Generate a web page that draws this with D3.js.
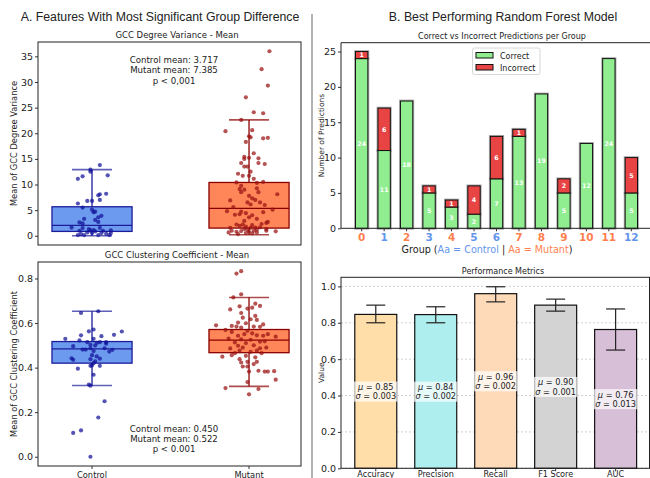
<!DOCTYPE html>
<html>
<head>
<meta charset="utf-8">
<script src="https://cdn.jsdelivr.net/npm/d3@7"></script>
<style>
  body { margin: 0; background: #fff; }
  text { font-family: "DejaVu Sans", sans-serif; fill: #222; }
</style>
</head>
<body>
<svg id="fig" width="650" height="478"></svg>
<script>
// ---- panel A data ----
const boxGroups = ["Control", "Mutant"];

// [whiskLow, q1, median, q3, whiskHigh]
const degVarStats = [[0.0, 0.85, 2.03, 5.66, 12.9], [0.2, 1.5, 5.34, 10.4, 22.6]];
const clustStats = [[0.32, 0.42, 0.484, 0.517, 0.653], [0.316, 0.467, 0.523, 0.571, 0.715]];

// jittered points: values and horizontal jitter (in category units)
const degVarControl = [13.8,12.9,12.5,11.6,11.1,11.8,8.1,7.9,8.2,7.0,6.8,6.8,6.3,5.5,5.1,4.6,4.7,3.9,3.6,3.1,2.7,3.3,2.6,2.4,1.6,1.5,1.3,1.05,1.1,0.85,1.56,0.98,1.05,0.53,0.39,0.66,0.33,0.14,0.14,0.14,0.53,0.14,0.53,0.98];
const degVarControlJit = [0.05,-0.01,-0.01,-0.06,-0.09,0.10,0.05,0.04,0.09,0.05,0.00,-0.03,-0.09,-0.06,0.00,0.01,0.02,0.06,0.04,0.02,0.04,-0.05,-0.08,-0.06,-0.13,-0.06,-0.02,-0.01,0.01,0.02,0.05,0.07,0.12,0.12,0.09,-0.03,-0.07,-0.09,-0.05,0.04,0.00,0.11,0.06,-0.08];
const degVarMutant = [36.0,32.5,29.3,27.0,24.1,23.9,22.6,20.4,20.6,19.4,19.2,19.0,19.1,18.3,16.1,15.4,15.0,15.2,15.1,14.2,14.2,14.0,13.5,13.5,12.5,12.1,11.7,11.7,11.1,10.4,10.3,10.5,9.75,9.1,9.0,8.5,9.25,8.5,8.1,7.8,7.3,6.9,7.0,6.5,6.5,6.1,6.0,5.1,4.8,5.6,4.7,4.4,4.6,4.1,4.2,4.0,3.6,3.3,2.9,2.5,2.7,2.2,2.3,1.95,2.2,1.8,2.1,1.6,1.56,0.98,0.78,0.92,1.3,1.17,0.78,1.56,0.98,1.17,0.98,0.86,0.66,0.33,0.53,0.47,0.66,1.3,1.64];
const degVarMutantJit = [0.13,0.08,0.12,-0.02,0.03,0.09,-0.05,-0.15,0.02,0.00,0.01,0.09,0.12,-0.02,0.03,-0.03,-0.03,0.00,0.06,-0.05,0.06,0.10,-0.03,-0.01,0.01,-0.07,-0.04,0.00,0.03,-0.08,0.05,0.09,-0.05,-0.06,-0.03,-0.05,0.05,0.06,0.18,0.00,0.02,-0.12,0.04,0.07,-0.01,0.01,0.10,0.15,-0.14,-0.10,-0.05,-0.02,0.09,-0.09,-0.06,0.02,0.00,0.05,-0.03,0.11,0.12,-0.08,0.08,-0.06,-0.04,-0.02,0.02,0.04,-0.12,-0.11,-0.08,-0.05,-0.03,-0.01,0.00,0.01,0.03,0.05,0.11,0.17,-0.13,-0.07,-0.02,0.02,0.05,0.11,0.07];
const clustControl = [0.653,0.645,0.562,0.547,0.571,0.563,0.545,0.541,0.529,0.522,0.529,0.514,0.511,0.514,0.514,0.507,0.496,0.502,0.499,0.487,0.481,0.481,0.487,0.48,0.472,0.474,0.456,0.45,0.44,0.442,0.435,0.438,0.428,0.42,0.408,0.408,0.395,0.41,0.368,0.324,0.319,0.249,0.176,0.118,0.107,0.0];
const clustControlJit = [0.04,-0.07,0.19,0.14,0.01,-0.02,-0.07,0.06,-0.17,-0.08,0.01,-0.03,0.03,0.05,0.09,0.09,-0.12,-0.01,0.02,0.08,-0.06,-0.04,-0.01,0.13,0.11,0.01,0.00,0.03,0.05,-0.13,-0.12,-0.01,0.02,0.01,-0.01,0.05,-0.09,0.00,0.01,-0.02,-0.01,0.08,0.04,-0.07,-0.12,-0.01];
const clustMutant = [0.833,0.822,0.729,0.715,0.687,0.677,0.675,0.661,0.665,0.669,0.645,0.632,0.624,0.617,0.614,0.602,0.599,0.594,0.59,0.587,0.584,0.569,0.58,0.584,0.583,0.55,0.539,0.565,0.554,0.55,0.56,0.543,0.545,0.543,0.53,0.527,0.525,0.516,0.518,0.513,0.51,0.498,0.5,0.486,0.49,0.487,0.49,0.476,0.471,0.476,0.465,0.465,0.449,0.456,0.453,0.446,0.438,0.423,0.426,0.426,0.416,0.405,0.405,0.386,0.382,0.382,0.384,0.382,0.346,0.308,0.304,0.28,0.335];
const clustMutantJit = [-0.05,-0.08,-0.05,-0.10,0.04,0.07,-0.06,-0.12,-0.01,0.02,-0.05,0.04,-0.04,0.01,0.05,-0.07,-0.02,0.09,-0.21,-0.11,-0.08,-0.15,-0.05,0.03,0.07,0.12,0.17,-0.01,0.02,-0.03,-0.11,-0.07,0.05,0.09,-0.13,-0.05,0.01,0.07,0.10,-0.09,-0.02,-0.07,0.03,-0.12,-0.04,0.07,0.11,-0.06,0.01,0.05,-0.09,0.08,-0.17,-0.11,-0.02,0.04,-0.06,-0.05,-0.01,0.05,0.03,-0.04,-0.01,0.06,0.10,0.12,0.16,0.00,0.17,-0.15,0.06,0.00,-0.01];

// ---- panel B data ----
const groupIds = [0,1,2,3,4,5,6,7,8,9,10,11,12];
const groupIsControl = [false,true,false,true,false,true,true,false,false,false,false,false,true];
const correctCounts = [24,11,18,5,3,2,7,13,19,5,12,24,5];
const incorrectCounts = [1,6,0,1,1,4,6,1,0,2,0,0,5];

const metricNames = ["Accuracy", "Precision", "Recall", "F1 Score", "AUC"];
const metricMeans = [0.846, 0.845, 0.960, 0.897, 0.763];
const metricErrLow = [0.800, 0.800, 0.915, 0.864, 0.650];
const metricErrHigh = [0.897, 0.888, 0.998, 0.930, 0.876];
const metricMuText = ["0.85", "0.84", "0.96", "0.90", "0.76"];
const metricSigmaText = ["0.003", "0.002", "0.002", "0.001", "0.013"];
const metricColors = ["#FFDEAA", "#AFEEEE", "#FFDAB9", "#D3D3D3", "#D8BFD8"];

const controlBlue = "#6495ED";
const mutantOrange = "#FF7F50";

const svg = d3.select("#fig");

// figure titles + divider
svg.append("text").attr("x", 160).attr("y", 21).attr("text-anchor", "middle")
  .style("font-family", "'Liberation Sans', Arial, sans-serif").style("font-size", "12.3px")
  .text("A. Features With Most Significant Group Difference");
svg.append("text").attr("x", 503).attr("y", 21).attr("text-anchor", "middle")
  .style("font-family", "'Liberation Sans', Arial, sans-serif").style("font-size", "12.3px")
  .text("B. Best Performing Random Forest Model");
svg.append("line").attr("x1", 312).attr("x2", 312).attr("y1", 14).attr("y2", 478)
  .attr("stroke", "#999").attr("stroke-width", 1.5);

// ---------- box plot panels ----------
function boxPanel(o) {
  const x = d3.scaleLinear().domain([-0.344, 1.331]).range([38, 301]);
  const y = d3.scaleLinear().domain(o.yDomain).range([o.bottom, o.top]);
  const g = svg.append("g");
  const bw = 0.51;
  const pal = [
    {fill: controlBlue, edge: "#1c1c9a", pt: "#10109a"},
    {fill: mutantOrange, edge: "#8B0000", pt: "#9a1010"}
  ];

  o.stats.forEach((s, i) => {
    const c = pal[i];
    const x0 = x(i - bw / 2), x1 = x(i + bw / 2);
    const cx = x(i);
    const capHalf = (x1 - x0) / 4;
    // whiskers
    g.append("line").attr("x1", cx).attr("x2", cx).attr("y1", y(s[0])).attr("y2", y(s[1]))
      .attr("stroke", c.edge).attr("stroke-width", 1.3);
    g.append("line").attr("x1", cx).attr("x2", cx).attr("y1", y(s[3])).attr("y2", y(s[4]))
      .attr("stroke", c.edge).attr("stroke-width", 1.3);
    [s[0], s[4]].forEach(v => {
      g.append("line").attr("x1", cx - capHalf).attr("x2", cx + capHalf)
        .attr("y1", y(v)).attr("y2", y(v))
        .attr("stroke", c.edge).attr("stroke-opacity", 0.7).attr("stroke-width", 1.6);
    });
    // box
    g.append("rect").attr("x", x0).attr("y", y(s[3])).attr("width", x1 - x0)
      .attr("height", y(s[1]) - y(s[3]))
      .attr("fill", c.fill).attr("fill-opacity", 0.95)
      .attr("stroke", c.edge).attr("stroke-width", 1.3);
    g.append("line").attr("x1", x0).attr("x2", x1).attr("y1", y(s[2])).attr("y2", y(s[2]))
      .attr("stroke", c.edge).attr("stroke-width", 1.3);
  });

  // points
  o.points.forEach((p, i) => {
    g.selectAll(null).data(d3.zip(p[0], p[1])).join("circle")
      .attr("cx", d => x(i + d[1]))
      .attr("cy", d => y(d[0]))
      .attr("r", 2.1)
      .attr("fill", pal[i].pt).attr("fill-opacity", 0.72);
  });

  // axes
  const ya = g.append("g").attr("transform", "translate(38,0)")
    .call(d3.axisLeft(y).tickValues(o.ticks).tickFormat(o.fmt).tickSize(3).tickPadding(2));
  ya.select(".domain").remove();
  ya.selectAll("text").style("font-size", "9.5px").attr("fill", "#222");
  ya.selectAll("line").attr("stroke", "#333");

  g.append("rect").attr("x", 38).attr("y", o.top).attr("width", 263).attr("height", o.bottom - o.top)
    .attr("fill", "none").attr("stroke", "#222").attr("stroke-width", 1);

  g.append("text").attr("x", 177).attr("y", o.top - 4).attr("text-anchor", "middle")
    .style("font-size", "8.5px").text(o.title);
  g.append("text").attr("transform", `translate(17,${(o.top + o.bottom) / 2}) rotate(-90)`)
    .attr("text-anchor", "middle").style("font-size", "8.3px").text(o.ylabel);

  o.notes.forEach((t, k) => {
    g.append("text").attr("x", 174).attr("y", o.noteY + k * 10.3).attr("text-anchor", "middle")
      .style("font-size", "8.6px").text(t);
  });

  if (o.showX) {
    boxGroups.forEach((n, i) => {
      g.append("line").attr("x1", x(i)).attr("x2", x(i)).attr("y1", o.bottom).attr("y2", o.bottom + 3)
        .attr("stroke", "#333");
      g.append("text").attr("x", x(i)).attr("y", o.bottom + 11.5).attr("text-anchor", "middle")
        .style("font-size", "8.3px").text(n);
    });
  }
}

boxPanel({
  top: 42, bottom: 245, yDomain: [-1.8, 37.8],
  ticks: [0, 5, 10, 15, 20, 25, 30, 35], fmt: d3.format("d"),
  stats: degVarStats,
  points: [[degVarControl, degVarControlJit], [degVarMutant, degVarMutantJit]],
  title: "GCC Degree Variance - Mean",
  ylabel: "Mean of GCC Degree Variance",
  notes: ["Control mean: 3.717", "Mutant mean: 7.385", "p < 0,001"], noteY: 63,
  showX: false
});

boxPanel({
  top: 262, bottom: 466, yDomain: [-0.0416, 0.874],
  ticks: [0, 0.2, 0.4, 0.6, 0.8], fmt: d3.format(".1f"),
  stats: clustStats,
  points: [[clustControl, clustControlJit], [clustMutant, clustMutantJit]],
  title: "GCC Clustering Coefficient - Mean",
  ylabel: "Mean of GCC Clustering Coefficient",
  notes: ["Control mean: 0.450", "Mutant mean: 0.522", "p < 0.001"], noteY: 431.5,
  showX: true
});

// ---------- stacked bars ----------
{
  const top = 42.7, bottom = 228.3;
  const x = d3.scaleLinear().domain([-0.92, 12.92]).range([341, 652]);
  const y = d3.scaleLinear().domain([0, 26.25]).range([bottom, top]);
  const g = svg.append("g");
  const bw = 0.55;

  const segs = [];
  groupIds.forEach((gid, i) => {
    segs.push({gid, y0: 0, y1: correctCounts[i], v: correctCounts[i], color: "#90EE90"});
    segs.push({gid, y0: correctCounts[i], y1: correctCounts[i] + incorrectCounts[i], v: incorrectCounts[i], color: "#E84444"});
  });
  const live = segs.filter(s => s.v > 0);

  // soft grey halo
  g.selectAll(null).data(live).join("rect")
    .attr("x", d => x(d.gid - bw / 2)).attr("width", x(bw) - x(0))
    .attr("y", d => y(d.y1)).attr("height", d => y(d.y0) - y(d.y1))
    .attr("fill", "none").attr("stroke", "#888").attr("stroke-opacity", 0.7).attr("stroke-width", 2.8);
  g.selectAll(null).data(live).join("rect")
    .attr("x", d => x(d.gid - bw / 2)).attr("width", x(bw) - x(0))
    .attr("y", d => y(d.y1)).attr("height", d => y(d.y0) - y(d.y1))
    .attr("fill", d => d.color).attr("stroke", "#111").attr("stroke-width", 1);
  g.selectAll(null).data(live).join("text")
    .attr("x", d => x(d.gid)).attr("y", d => y((d.y0 + d.y1) / 2) + 2.3)
    .attr("text-anchor", "middle").style("font-size", "6.3px").style("font-weight", "bold")
    .style("fill", "#fff").text(d => d.v);

  const ya = g.append("g").attr("transform", "translate(341,0)")
    .call(d3.axisLeft(y).tickValues([0, 5, 10, 15, 20, 25]).tickSize(3).tickPadding(2));
  ya.select(".domain").remove();
  ya.selectAll("text").style("font-size", "9.5px").attr("fill", "#222");
  ya.selectAll("line").attr("stroke", "#333");

  g.append("path").attr("d", `M650,${top}H341V${bottom}H650`)
    .attr("fill", "none").attr("stroke", "#222").attr("stroke-width", 1);

  groupIds.forEach((gid, i) => {
    g.append("line").attr("x1", x(gid)).attr("x2", x(gid)).attr("y1", bottom).attr("y2", bottom + 3)
      .attr("stroke", "#333");
    g.append("text").attr("x", x(gid)).attr("y", bottom + 13).attr("text-anchor", "middle")
      .style("font-size", "10.5px").style("font-weight", "bold")
      .style("fill", groupIsControl[i] ? controlBlue : mutantOrange).text(gid);
  });

  const xl = g.append("text").attr("x", 487).attr("y", 252.5).attr("text-anchor", "middle")
    .style("font-size", "9.6px");
  xl.append("tspan").text("Group (");
  xl.append("tspan").style("fill", controlBlue).text("Aa = Control");
  xl.append("tspan").text(" | ");
  xl.append("tspan").style("fill", mutantOrange).text("Aa = Mutant");
  xl.append("tspan").text(")");

  g.append("text").attr("transform", `translate(324,${(top + bottom) / 2}) rotate(-90)`)
    .attr("text-anchor", "middle").style("font-size", "7.5px").text("Number of Predictions");
  g.append("text").attr("x", 502).attr("y", 38.5).attr("text-anchor", "middle")
    .style("font-size", "8px").text("Correct vs Incorrect Predictions per Group");

  // legend
  const lg = g.append("g");
  lg.append("rect").attr("x", 472.5).attr("y", 48).attr("width", 67.5).attr("height", 26.5).attr("rx", 2)
    .attr("fill", "#fff").attr("fill-opacity", 0.85).attr("stroke", "#ccc").attr("stroke-width", 0.8);
  [["Correct", "#90EE90"], ["Incorrect", "#E84444"]].forEach((e, k) => {
    lg.append("rect").attr("x", 476).attr("y", 52.5 + k * 12).attr("width", 17).attr("height", 5.5)
      .attr("fill", e[1]).attr("stroke", "#111").attr("stroke-width", 1);
    lg.append("text").attr("x", 500).attr("y", 58.5 + k * 12).style("font-size", "8px").text(e[0]);
  });
}

// ---------- performance metrics ----------
{
  const top = 277.3, bottom = 468.3;
  const x = d3.scaleLinear().domain([-0.58, 4.58]).range([341, 650.4]);
  const y = d3.scaleLinear().domain([0, 1.05]).range([bottom, top]);
  const g = svg.append("g");
  const bw = 0.7;
  const ticks = [0, 0.2, 0.4, 0.6, 0.8, 1.0];

  g.selectAll(null).data(ticks).join("line")
    .attr("x1", 341).attr("x2", 650).attr("y1", d => y(d)).attr("y2", d => y(d))
    .attr("stroke", "#bbb").attr("stroke-width", 0.7).attr("stroke-dasharray", "2,2");

  const rows = metricNames.map((n, i) => ({i, n, v: metricMeans[i], lo: metricErrLow[i], hi: metricErrHigh[i]}));

  g.selectAll(null).data(rows).join("rect")
    .attr("x", d => x(d.i - bw / 2)).attr("width", x(bw) - x(0))
    .attr("y", d => y(d.v)).attr("height", d => bottom - y(d.v))
    .attr("fill", d => metricColors[d.i]).attr("stroke", "#111").attr("stroke-width", 1.2);

  rows.forEach(d => {
    const cx = x(d.i);
    g.append("line").attr("x1", cx).attr("x2", cx).attr("y1", y(d.lo)).attr("y2", y(d.hi))
      .attr("stroke", "#222").attr("stroke-width", 1.2);
    [d.lo, d.hi].forEach(v => g.append("line").attr("x1", cx - 9.5).attr("x2", cx + 9.5)
      .attr("y1", y(v)).attr("y2", y(v)).attr("stroke", "#222").attr("stroke-width", 1.2));

    const lab = g.append("g");
    const bgRect = lab.append("rect").attr("fill", "#fff").attr("fill-opacity", 0.7);
    const cy = y(d.v / 2);
    const t = lab.append("text").attr("x", cx).attr("y", cy - 1.3).attr("text-anchor", "middle")
      .style("font-size", "8.2px");
    t.append("tspan").style("font-style", "italic").text("μ");
    t.append("tspan").text(" = " + metricMuText[d.i]);
    const t2 = lab.append("text").attr("x", cx).attr("y", cy + 7.8).attr("text-anchor", "middle")
      .style("font-size", "8.2px");
    t2.append("tspan").style("font-style", "italic").text("σ");
    t2.append("tspan").text(" = " + metricSigmaText[d.i]);
    const b1 = t.node().getBBox(), b2 = t2.node().getBBox();
    const bx0 = Math.min(b1.x, b2.x) - 1.5, bx1 = Math.max(b1.x + b1.width, b2.x + b2.width) + 1.5;
    bgRect.attr("x", bx0).attr("y", b1.y - 0.5).attr("width", bx1 - bx0).attr("height", b2.y + b2.height - b1.y + 1);
  });

  const ya = g.append("g").attr("transform", "translate(341,0)")
    .call(d3.axisLeft(y).tickValues(ticks).tickFormat(d3.format(".1f")).tickSize(3).tickPadding(2));
  ya.select(".domain").remove();
  ya.selectAll("text").style("font-size", "9.5px").attr("fill", "#222");
  ya.selectAll("line").attr("stroke", "#333");

  g.append("rect").attr("x", 341).attr("y", top).attr("width", 308.5).attr("height", bottom - top)
    .attr("fill", "none").attr("stroke", "#222").attr("stroke-width", 1);

  metricNames.forEach((n, i) => {
    g.append("line").attr("x1", x(i)).attr("x2", x(i)).attr("y1", bottom).attr("y2", bottom + 3).attr("stroke", "#333");
    g.append("text").attr("x", x(i)).attr("y", 476.5).attr("text-anchor", "middle")
      .style("font-size", "8.1px").text(n);
  });

  g.append("text").attr("x", 503).attr("y", 273.5).attr("text-anchor", "middle")
    .style("font-size", "8px").text("Performance Metrics");
  g.append("text").attr("transform", `translate(324,${(top + bottom) / 2}) rotate(-90)`)
    .attr("text-anchor", "middle").style("font-size", "7.5px").text("Value");
}
</script>
</body>
</html>
